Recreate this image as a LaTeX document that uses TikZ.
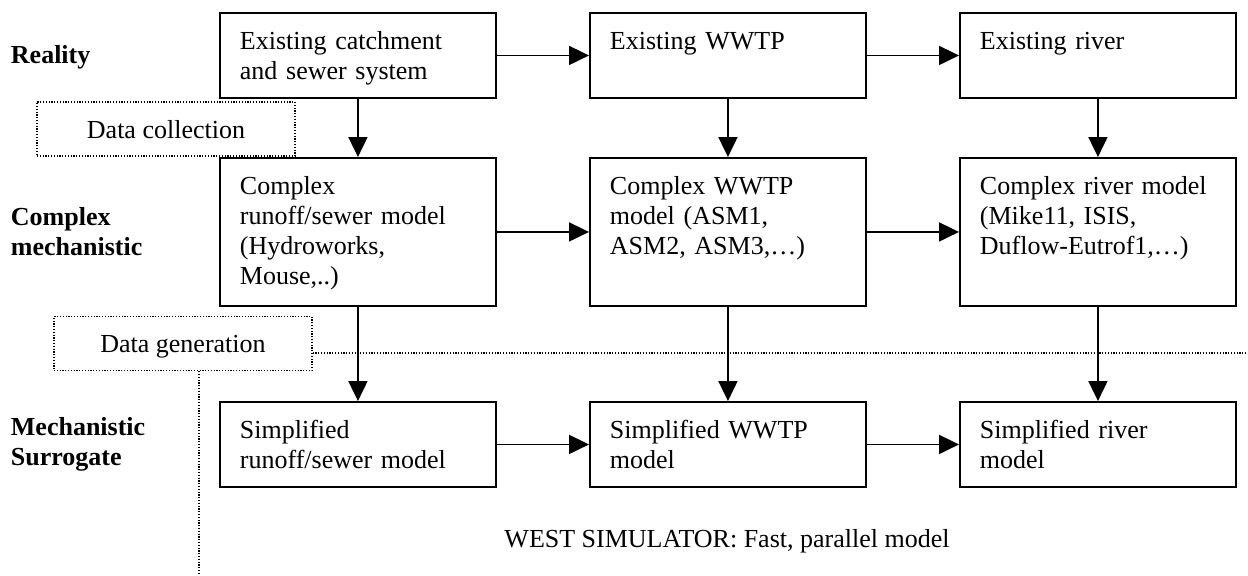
\documentclass[tikz,border=0pt]{standalone}
\usepackage{fontspec}
\setmainfont{Liberation Serif}
\usetikzlibrary{arrows.meta}
\newcommand\diagfont{\fontsize{13pt}{15pt}\selectfont}
\tikzset{
  >={Triangle[length=10pt,width=9.5pt]},
  every node/.style={font=\diagfont},
  blk/.style={draw,anchor=north west,minimum width=138pt,text width=118pt,inner xsep=10pt,inner ysep=0pt,align=left,text height=18.5pt,text depth=24pt},
  tall/.style={text depth=55.5pt},
  dline/.style={dash pattern=on 0.6pt off 0.8pt,line width=0.65pt},
  dbox/.style={draw,dline,minimum width=129pt,minimum height=27pt,inner sep=0pt,text depth=0pt},
  lbl/.style={anchor=base west,align=left,inner sep=0pt,font=\bfseries\diagfont},
  every picture/.style={line width=0.95pt},
}
\begin{document}
\begin{tikzpicture}[x=0.5pt,y=-0.5pt]
\useasboundingbox (0,0) rectangle (1248,575);
% row labels (base = last line)
\node[lbl] (lr) at (10,63) {Reality};
\node[lbl] (lc) at (10,255) {Complex\\mechanistic};
\node[lbl] (ls) at (10,465) {Mechanistic\\Surrogate};
% boxes
\node[blk] (Ec) at (219,12) {Existing catchment\\and sewer system};
\node[blk] (Ew) at (589,12) {Existing WWTP};
\node[blk] (Er) at (959,12) {Existing river};
\node[blk,tall] (Cc) at (219,157) {Complex\\runoff/sewer model\\(Hydroworks,\\Mouse,..)};
\node[blk,tall] (Cw) at (589,157) {Complex WWTP\\model (ASM1,\\ASM2, ASM3,\dots)};
\node[blk,tall] (Cr) at (959,157) {Complex river model\\(Mike11, ISIS,\\Duflow-Eutrof1,\dots)};
\node[blk] (Sc) at (219,401) {Simplified\\runoff/sewer model};
\node[blk] (Sw) at (589,401) {Simplified WWTP\\model};
\node[blk] (Sr) at (959,401) {Simplified river\\model};
% data boxes and dotted lines
\node[dbox] (dcol) at (166,129) {Data collection};
\node[dbox] (dgen) at (183,343.5) {Data generation};
\coordinate (gE) at (1248,353);
\coordinate (gS) at (199,575);
\draw[dline] ([yshift=-4.75pt]dgen.east) -- (gE);
\draw[dline] (dgen.south -| gS) -- (gS);
\node[anchor=base] (west) at (727,547) {WEST SIMULATOR: Fast, parallel model};
\begin{scope}[->]
\foreach \a/\b in {Ec/Ew,Ew/Er,Cc/Cw,Cw/Cr,Sc/Sw,Sw/Sr}{\draw (\a)--(\b);}
\foreach \a/\b in {Ec/Cc,Cc/Sc,Ew/Cw,Cw/Sw,Er/Cr,Cr/Sr}{\draw (\a)--(\b);}
\end{scope}
\end{tikzpicture}
\end{document}
